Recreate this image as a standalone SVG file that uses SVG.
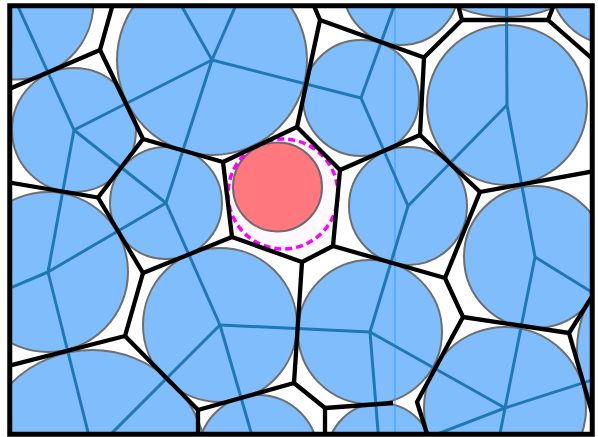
<svg xmlns="http://www.w3.org/2000/svg" width="598" height="437" viewBox="0 0 598 437">
<style>
.c{fill:#80bdfc;stroke:#6e6e6e;stroke-width:2}
.t{stroke:#1f77b4;stroke-width:3;fill:none}
.p{stroke:#000;stroke-width:4.3;fill:none;stroke-linejoin:round}
</style>
<defs><clipPath id="clip"><rect x="10" y="6" width="582" height="428"/></clipPath></defs>
<rect width="598" height="437" fill="#fff"/>
<g clip-path="url(#clip)">
<g id="circles">
<circle id="A" class="c" cx="16" cy="2" r="77.5"/>
<circle id="B" class="c" cx="74" cy="130" r="62"/>
<circle id="C" class="c" cx="212" cy="60" r="95"/>
<circle id="D" class="c" cx="166" cy="203" r="56"/>
<circle id="F" class="c" cx="361" cy="98" r="58"/>
<circle id="G" class="c" cx="401" cy="-13" r="58"/>
<circle id="H" class="c" cx="506" cy="-110" r="127"/>
<circle id="I" class="c" cx="507" cy="105" r="80"/>
<circle id="J" class="c" cx="612" cy="-17" r="61"/>
<circle id="K" class="c" cx="408" cy="206" r="59"/>
<circle id="L" class="c" cx="535" cy="257" r="71"/>
<circle id="M" class="c" cx="370" cy="332" r="72"/>
<circle id="N" class="c" cx="505" cy="408" r="81"/>
<circle id="O" class="c" cx="685" cy="350" r="108"/>
<circle id="P" class="c" cx="92" cy="465" r="115"/>
<circle id="Q" class="c" cx="48" cy="272" r="80"/>
<circle id="R" class="c" cx="220" cy="325" r="77"/>
<circle id="S" class="c" cx="258" cy="455" r="60"/>
<circle id="T" class="c" cx="380" cy="456" r="53"/>
</g>
<g id="query">
<circle cx="277.5" cy="187" r="44.5" fill="#ff7b7b" stroke="#6e6e6e" stroke-width="2"/>
<circle cx="283" cy="194" r="55" fill="#ff00ff" fill-opacity="0.025" stroke="#ff00ff" stroke-width="3.5" stroke-dasharray="7 4"/>
</g>
<line x1="395" y1="0" x2="395" y2="437" stroke="#3d9df5" stroke-width="1"/>
<g id="connectors">
<g class="t">
<line x1="74" y1="130" x2="16" y2="2"/>
<line x1="74" y1="130" x2="212" y2="60"/>
<line x1="74" y1="130" x2="166" y2="203"/>
<line x1="74" y1="130" x2="48" y2="272"/>
<line x1="212" y1="60" x2="166" y2="203"/>
<line x1="212" y1="60" x2="361" y2="98"/>
<line x1="212" y1="60" x2="150" y2="-50"/>
<line x1="212" y1="60" x2="260" y2="-50"/>
<line x1="166" y1="203" x2="48" y2="272"/>
<line x1="166" y1="203" x2="220" y2="325"/>
<line x1="48" y1="272" x2="93" y2="452"/>
<line x1="48" y1="272" x2="-60" y2="318"/>
<line x1="220" y1="325" x2="93" y2="452"/>
<line x1="220" y1="325" x2="370" y2="332"/>
<line x1="220" y1="325" x2="255" y2="446"/>
<line x1="361" y1="98" x2="401" y2="-13"/>
<line x1="361" y1="98" x2="408" y2="206"/>
<line x1="507" y1="105" x2="506" y2="-110"/>
<line x1="507" y1="105" x2="408" y2="206"/>
<line x1="507" y1="105" x2="535" y2="257"/>
<line x1="408" y1="206" x2="370" y2="332"/>
<line x1="370" y1="332" x2="380" y2="456"/>
<line x1="370" y1="332" x2="505" y2="408"/>
<line x1="535" y1="257" x2="505" y2="408"/>
<line x1="535" y1="257" x2="685" y2="350"/>
<line x1="505" y1="408" x2="685" y2="350"/>
<line x1="505" y1="408" x2="380" y2="456"/>
<line x1="505" y1="408" x2="493" y2="470"/>
</g>
<g class="p">
<polyline points="114,0 100,50 0,93"/>
<polyline points="100,50 143,139 223,162 297,127 320,20 311.5,0"/>
<polyline points="143,139 98,197.5 0,181"/>
<polyline points="98,197.5 143,273 232,237 223,162"/>
<polyline points="143,273 125,336 0,368"/>
<polyline points="125,336 198,410 198,437"/>
<polyline points="198,410 294,383 302,262 232,237"/>
<polyline points="302,262 333,246 340,170 297,127"/>
<polyline points="294,383 325,408 325,437"/>
<polyline points="325,408 393,403"/>
<polyline points="428,437 417,402 463,317 445,278 333,246"/>
<polyline points="320,20 424,57.5 462,20 456.7,0"/>
<polyline points="462,20 548,20 555.8,0"/>
<polyline points="548,20 600,65.5"/>
<polyline points="424,57.5 420,135 340,170"/>
<polyline points="420,135 480,192 600,170"/>
<polyline points="480,192 445,278"/>
<polyline points="463,317 569,333 600,284"/>
<polyline points="569,333 597,430"/>
</g>
</g>
</g>
<rect x="9.75" y="5.75" width="582.5" height="428.5" fill="none" stroke="#000" stroke-width="5"/>
</svg>
